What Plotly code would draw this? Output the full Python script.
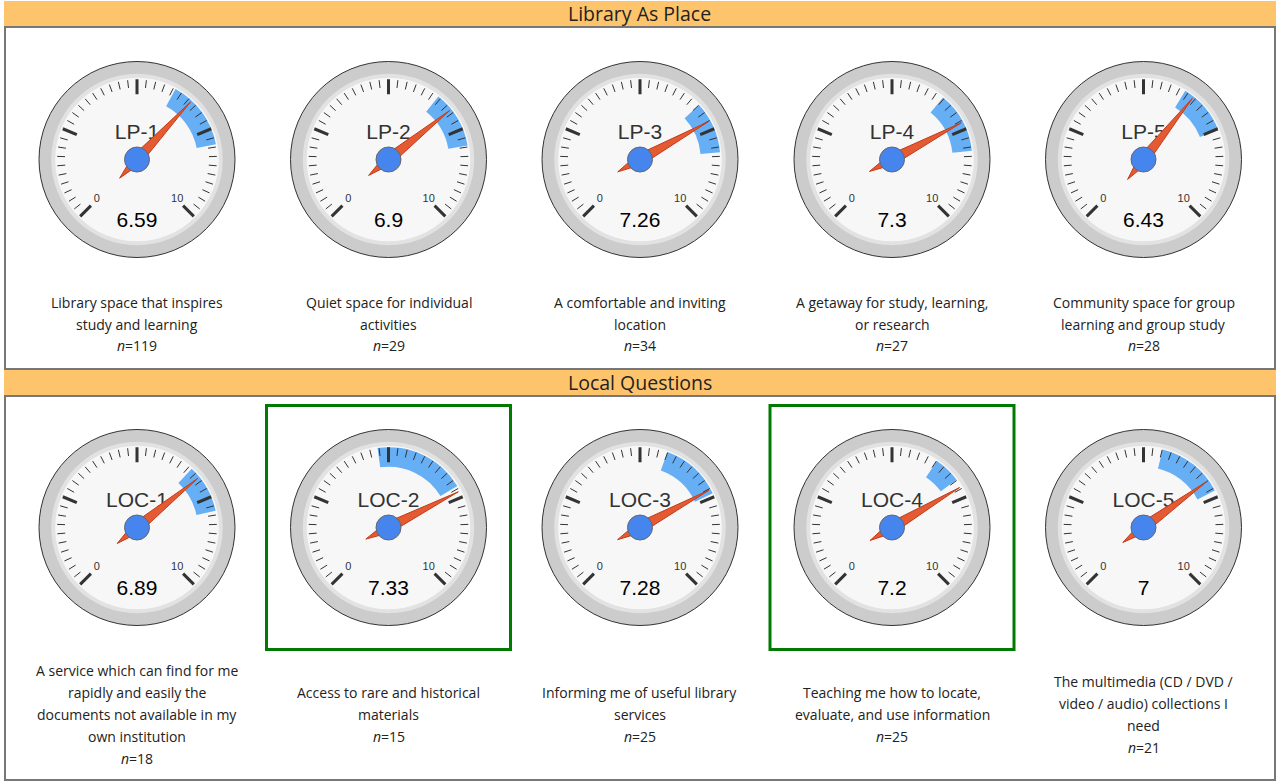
import plotly.graph_objects as go

# ---------------- data ----------------
section_titles = ["Library As Place", "Local Questions"]
codes = ["LP-1", "LP-2", "LP-3", "LP-4", "LP-5",
         "LOC-1", "LOC-2", "LOC-3", "LOC-4", "LOC-5"]
values = [6.59, 6.9, 7.26, 7.3, 6.43, 6.89, 7.33, 7.28, 7.2, 7]
band_low = [6.06, 6.42, 6.75, 6.46, 6.16, 6.59, 4.71, 5.74, 6.26, 5.51]
band_high = [7.93, 7.96, 8.14, 8.10, 7.53, 7.89, 7.18, 7.40, 6.98, 7.32]
n_resp = [119, 29, 34, 27, 28, 18, 15, 25, 25, 21]
descriptions = [
    ["Library space that inspires", "study and learning"],
    ["Quiet space for individual", "activities"],
    ["A comfortable and inviting", "location"],
    ["A getaway for study, learning,", "or research"],
    ["Community space for group", "learning and group study"],
    ["A service which can find for me", "rapidly and easily the",
     "documents not available in my", "own institution"],
    ["Access to rare and historical", "materials"],
    ["Informing me of useful library", "services"],
    ["Teaching me how to locate,", "evaluate, and use information"],
    ["The multimedia (CD / DVD /", "video / audio) collections I", "need"],
]
highlighted = ["LOC-2", "LOC-4"]
gauge_min, gauge_max = 0, 10
major_ticks = [0, 2.5, 5, 7.5, 10]
minor_step = 0.25

# ---------------- layout constants (page pixels) ----------------
W, H = 1276, 782
R = 98
col_cx = [137, 388.5, 640, 892, 1143.5]
row_cy = [159.5, 527.5]
text_cy = [324, 714]
LINE = 22
header_y = [(1, 27), (369, 396)]
panel_y = [(27, 369), (396, 780)]
SWEEP = 270.0


def th(v):
    return (v - gauge_min) / (gauge_max - gauge_min) * SWEEP


def px(x):
    return x / W


def py(y):
    return 1 - y / H


fig = go.Figure()
shapes = []
annotations = []

# headers and panels
for s, title in enumerate(section_titles):
    y0, y1 = header_y[s]
    shapes.append(dict(type="rect", xref="paper", yref="paper",
                       x0=px(4), x1=px(1276), y0=py(y1), y1=py(y0),
                       fillcolor="#FEC46C", line=dict(width=0), layer="below"))
    p0, p1 = panel_y[s]
    shapes.append(dict(type="rect", xref="paper", yref="paper",
                       x0=px(5), x1=px(1275), y0=py(p1), y1=py(p0),
                       fillcolor="rgba(0,0,0,0)", line=dict(color="#777777", width=2)))
    annotations.append(dict(xref="paper", yref="paper", x=px(640), y=py((y0 + y1) / 2),
                            text=title, showarrow=False, xanchor="center", yanchor="middle",
                            font=dict(family="Open Sans", size=19.5, color="#222222")))

minor_ticks = []
k = 0
while gauge_min + k * minor_step <= gauge_max + 1e-9:
    v = gauge_min + k * minor_step
    if all(abs(v - m) > 1e-9 for m in major_ticks):
        minor_ticks.append(v)
    k += 1

polars = {}
for i, code in enumerate(codes):
    row, col = divmod(i, 5)
    cx, cy = col_cx[col], row_cy[row]
    name = "polar" if i == 0 else f"polar{i + 1}"
    sub = name
    polars[name] = dict(
        domain=dict(x=[px(cx - R), px(cx + R)], y=[py(cy + R), py(cy - R)]),
        bgcolor="#cccccc", barmode="overlay",
        radialaxis=dict(visible=False, range=[0, 1]),
        angularaxis=dict(rotation=225, direction="clockwise", showline=True,
                         linecolor="#333333", linewidth=1, showgrid=False,
                         showticklabels=False, ticks=""),
    )
    # rings and face
    fig.add_trace(go.Barpolar(r=[0.875], theta=[0], width=[360], base=[0],
                              marker=dict(color="#e2e2e2", line=dict(width=0)),
                              subplot=sub, hoverinfo="skip"))
    fig.add_trace(go.Barpolar(r=[0.835], theta=[0], width=[360], base=[0],
                              marker=dict(color="#f7f7f7", line=dict(width=0)),
                              subplot=sub, hoverinfo="skip"))
    # band
    lo, hi = band_low[i], band_high[i]
    fig.add_trace(go.Barpolar(r=[0.20], base=[0.62], theta=[th((lo + hi) / 2)],
                              width=[th(hi) - th(lo)],
                              marker=dict(color="#66AFF5", line=dict(width=0)),
                              subplot=sub, hoverinfo="skip"))
    # minor ticks
    rr, tt = [], []
    for v in minor_ticks:
        rr += [0.735, 0.815, None]
        tt += [th(v), th(v), None]
    fig.add_trace(go.Scatterpolar(r=rr, theta=tt, mode="lines",
                                  line=dict(color="#333333", width=1),
                                  subplot=sub, hoverinfo="skip"))
    rr, tt = [], []
    for v in major_ticks:
        rr += [0.665, 0.82, None]
        tt += [th(v), th(v), None]
    fig.add_trace(go.Scatterpolar(r=rr, theta=tt, mode="lines",
                                  line=dict(color="#333333", width=3),
                                  subplot=sub, hoverinfo="skip"))
    # min / max labels
    fig.add_trace(go.Scatterpolar(r=[0.58, 0.58], theta=[th(gauge_min), th(gauge_max)],
                                  mode="text", text=[str(gauge_min), str(gauge_max)],
                                  textfont=dict(family="Liberation Sans, Arial", size=11,
                                                color="#333333"),
                                  subplot=sub, hoverinfo="skip"))
    # code label and value
    fig.add_trace(go.Scatterpolar(r=[0.265], theta=[th(gauge_min) + 135], mode="text",
                                  text=[code],
                                  textfont=dict(family="Liberation Sans, Arial", size=21,
                                                color="#333333"),
                                  subplot=sub, hoverinfo="skip"))
    fig.add_trace(go.Scatterpolar(r=[0.64], theta=[th(gauge_min) - 45], mode="text",
                                  text=[f"{values[i]:g}"],
                                  textfont=dict(family="Liberation Sans, Arial", size=21,
                                                color="#000000"),
                                  subplot=sub, hoverinfo="skip"))
    # needle
    t = th(values[i])
    fig.add_trace(go.Scatterpolar(r=[0.80, 0.055, 0.26, 0.055, 0.80],
                                  theta=[t, t + 90, t + 180, t - 90, t],
                                  mode="lines", fill="toself", fillcolor="#E45A32",
                                  line=dict(color="#C33A17", width=1),
                                  subplot=sub, hoverinfo="skip"))
    fig.add_trace(go.Scatterpolar(r=[0], theta=[0], mode="markers",
                                  marker=dict(size=25, color="#4684EE",
                                              line=dict(color="#666666", width=1)),
                                  subplot=sub, hoverinfo="skip"))
    # description text
    lines = descriptions[i] + [f"<i>n</i>={n_resp[i]}"]
    m = len(lines)
    for j, ln in enumerate(lines):
        yy = text_cy[row] + (j - (m - 1) / 2) * LINE
        annotations.append(dict(xref="paper", yref="paper", x=px(cx), y=py(yy),
                                text=ln, showarrow=False, xanchor="center",
                                yanchor="middle",
                                font=dict(family="Open Sans", size=14, color="#222222")))
    if code in highlighted:
        shapes.append(dict(type="rect", xref="paper", yref="paper",
                           x0=px(cx - 122), x1=px(cx + 122),
                           y0=py(cy + 122), y1=py(cy - 122),
                           line=dict(color="#007a00", width=3),
                           fillcolor="rgba(0,0,0,0)"))

fig.update_layout(autosize=True, margin=dict(l=0, r=0, t=0, b=0),
                  paper_bgcolor="white", plot_bgcolor="white", showlegend=False,
                  shapes=shapes, annotations=annotations, **polars)
# the page's default body margin is neutralised by pinning the plot div to the corner
fig.write_html("out.html", config={"displayModeBar": False},
               default_width=f"{W}px",
               default_height=f"{H}px; position:absolute; left:0px; top:0px")
